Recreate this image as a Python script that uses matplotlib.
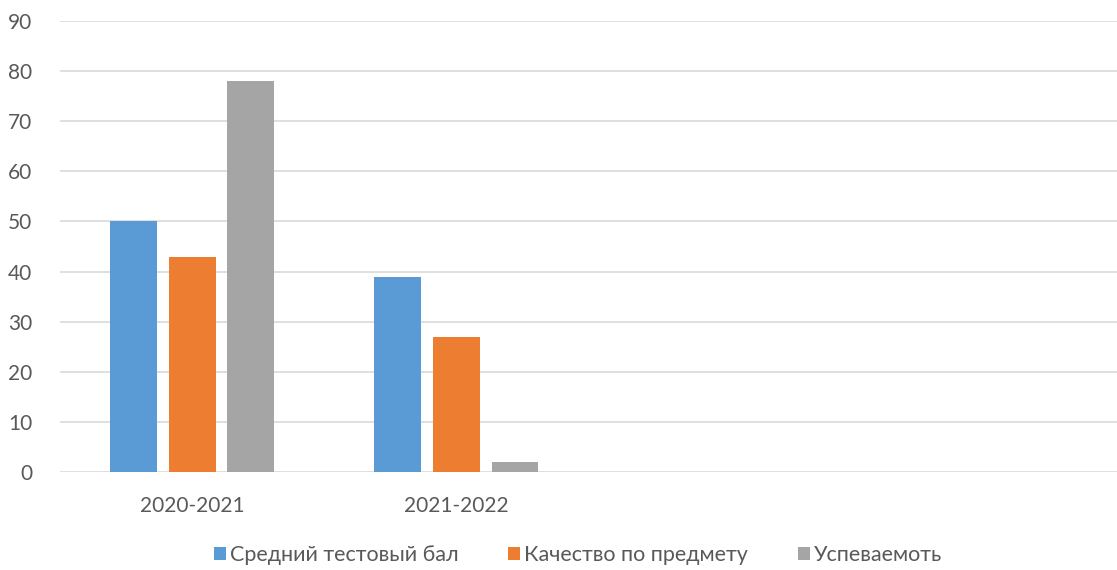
import numpy as np
import matplotlib.pyplot as plt

plt.rcParams['font.family'] = ['Lato', 'DejaVu Sans']

# Данные
kategorie = ["2020-2021", "2021-2022", "", ""]
sredniy_ball = [50, 39, np.nan, np.nan]
kachestvo = [43, 27, np.nan, np.nan]
uspevaemost = [78, 2, np.nan, np.nan]
nazvaniya = ["Средний тестовый бал", "Качество по предмету", "Успеваемоть"]
kolory = ["#5b9bd5", "#ed7d31", "#a5a5a5"]

fig = plt.figure(figsize=(11.17, 5.70), dpi=100)
ax = fig.add_axes([60 / 1117, 1 - 472 / 570, 1057 / 1117, 451 / 570])

x = np.arange(len(kategorie))
szer = 0.177
krok = 0.222
serie = [sredniy_ball, kachestvo, uspevaemost]
for i, (dane, nazwa, kol) in enumerate(zip(serie, nazvaniya, kolory)):
    ax.bar(x + (i - 1) * krok, dane, width=szer, color=kol, label=nazwa, zorder=3)

ax.set_xlim(-0.5, len(kategorie) - 0.5)
ax.set_ylim(0, 90)
ax.set_yticks(range(0, 91, 10))
ax.set_xticks(x)
ax.set_xticklabels(kategorie)

# Siatka
ax.grid(axis='y', color='#d9d9d9', linewidth=1.2, zorder=0)
for s in ax.spines.values():
    s.set_visible(False)
ax.tick_params(axis='both', length=0, labelsize=15, colors='#595959')
ax.tick_params(axis='y', pad=20)
ax.tick_params(axis='x', pad=17)

leg = fig.legend(loc='center', bbox_to_anchor=(578 / 1117, 1 - 555 / 570), ncol=3,
                 frameon=False, fontsize=15.5, handlelength=0.55, handleheight=0.55,
                 handletextpad=0.2, columnspacing=2.3)
for t in leg.get_texts():
    t.set_color('#595959')

fig.savefig("out.png", dpi=100)
